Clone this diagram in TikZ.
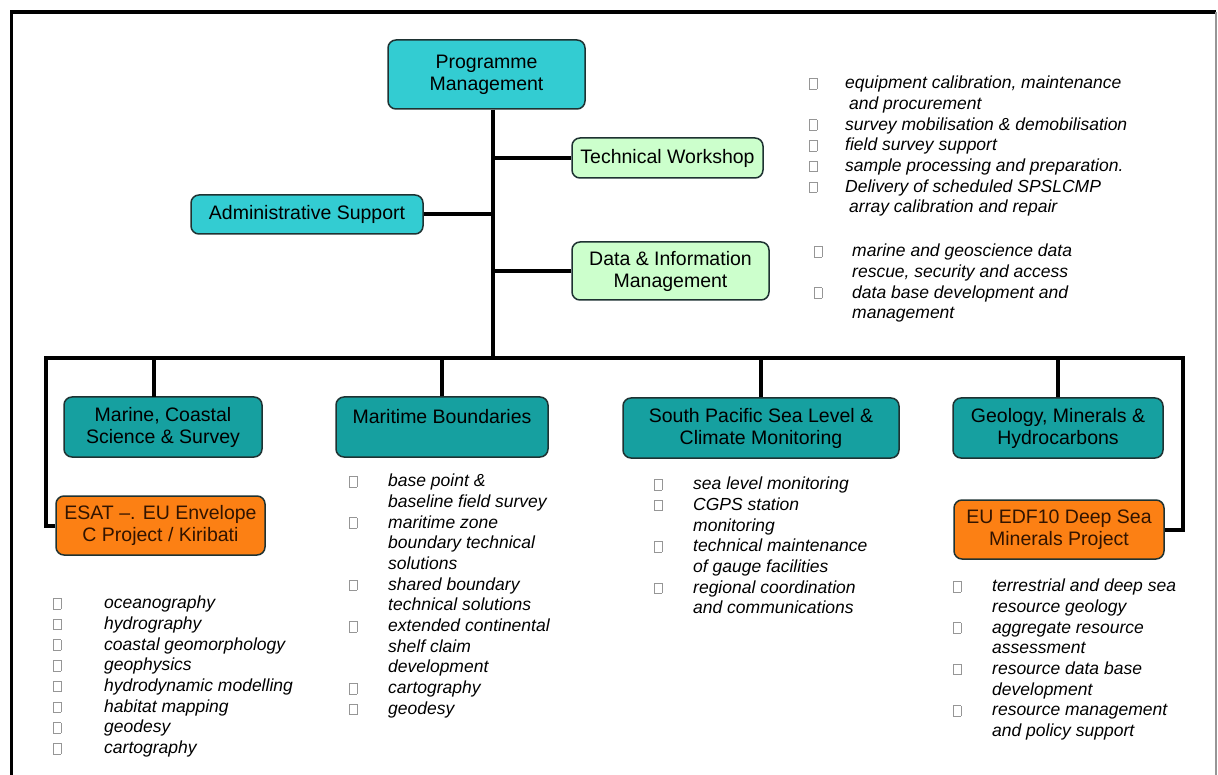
\documentclass[tikz,border=0pt]{standalone}
\usepackage{fontspec}
\setmainfont{Liberation Sans}
\usepackage{tikz}
\definecolor{pm_cyan}{RGB}{51, 204, 210}
\definecolor{ws_green}{RGB}{204, 255, 204}
\definecolor{dv_teal}{RGB}{22, 160, 160}
\definecolor{pj_orange}{RGB}{252, 128, 20}
\definecolor{bx_edge}{RGB}{30, 50, 50}
\definecolor{sq_gray}{RGB}{150, 150, 150}
\tikzstyle{bx}=[rectangle,rounded corners=8pt,draw=bx_edge,line width=1.5pt,
  inner sep=0pt,align=center,font=\fontsize{19.5}{22}\selectfont]
\tikzstyle{pn}=[bx,fill=pm_cyan]
\tikzstyle{wn}=[bx,fill=ws_green]
\tikzstyle{dn}=[bx,fill=dv_teal]
\tikzstyle{orn}=[bx,fill=pj_orange,text={rgb,255:red,50;green,20;blue,0}]
\tikzstyle{lst}=[anchor=north west,inner sep=0pt,align=left,
  font=\fontsize{17.5}{20.7}\selectfont\itshape]
\tikzstyle{link}=[line width=4pt]
\newcommand{\sq}{\textcolor{sq_gray}{\fboxsep=0pt\fboxrule=0.6pt\fbox{\rule{0pt}{10pt}\hspace{7pt}}}}
\newcommand{\sqitem}[2]{\strut\makebox[#1][l]{\sq}#2}
\newcommand{\sqcont}[2]{\strut\hspace*{#1}#2}

\begin{document}
\begin{tikzpicture}[x=1pt,y=-1pt]
    \useasboundingbox (0,0) rectangle (1218,775);
    \draw[line width=3.5pt] (11.5,775) -- (11.5,12) -- (1216,12);
    \draw[sq_gray,line width=1.5pt] (1216,12) -- (1216,775);
    \node [style=pn,minimum width=197pt,minimum height=69pt] (pm) at (486.5,74.5) {Programme\\Management};
    \node [style=wn,minimum width=191pt,minimum height=40pt] (tw) at (667.5,158) {Technical Workshop};
    \node [style=pn,minimum width=232pt,minimum height=39pt] (ad) at (307,214.5) {Administrative Support};
    \node [style=wn,minimum width=197pt,minimum height=58pt] (di) at (670.5,271) {Data \& Information\\Management};
    \node [style=dn,minimum width=198pt,minimum height=60pt] (mc) at (163,427) {Marine, Coastal\\Science \& Survey};
    \node [style=dn,minimum width=212pt,minimum height=60pt] (mb) at (442,427) {Maritime Boundaries\\\mbox{}};
    \node [style=dn,minimum width=276pt,minimum height=60pt] (sp) at (761,428) {South Pacific Sea Level \&\\Climate Monitoring};
    \node [style=dn,minimum width=210pt,minimum height=60pt] (gm) at (1058,428) {Geology, Minerals \&\\Hydrocarbons};
    \node [style=orn,minimum width=209pt,minimum height=59pt] (es) at (160.5,525.5) {ESAT --. EU Envelope\\C Project / Kiribati};
    \node [style=orn,minimum width=210pt,minimum height=59pt] (eu) at (1059,529.5) {EU EDF10 Deep Sea\\Minerals Project};
    \coordinate (hub) at (493,358);
    \coordinate (barL) at (46,358);
    \coordinate (barR) at (1183,358);
    \coordinate (mct) at (154,397);
    \draw [style=link] (pm.south -| hub) to (hub);
    \draw [style=link] (tw.west) to (tw.west -| hub);
    \draw [style=link] (ad.east) to (ad.east -| hub);
    \draw [style=link] (di.west) to (di.west -| hub);
    \draw [style=link] (es.west) -| (barL) -- (barR) |- (eu.east);
    \draw [style=link] (mct) to (mct |- hub);
    \draw [style=link] (mb.north) to (mb.north |- hub);
    \draw [style=link] (sp.north) to (sp.north |- hub);
    \draw [style=link] (gm.north) to (gm.north |- hub);
    \node [style=lst] (twl) at (809,74) {\sqitem{36pt}{equipment calibration, maintenance}\\
      \sqcont{40pt}{and procurement}\\
      \sqitem{36pt}{survey mobilisation \& demobilisation}\\
      \sqitem{36pt}{field survey support}\\
      \sqitem{36pt}{sample processing and preparation.}\\
      \sqitem{36pt}{Delivery of scheduled SPSLCMP}\\
      \sqcont{40pt}{array calibration and repair}};
    \node [style=lst] (dil) at (814,242) {\sqitem{38pt}{marine and geoscience data}\\
      \sqcont{38pt}{rescue, security and access}\\
      \sqitem{38pt}{data base development and}\\
      \sqcont{38pt}{management}};
    \node [style=lst] (mcl) at (53,594) {\sqitem{51pt}{oceanography}\\
      \sqitem{51pt}{hydrography}\\
      \sqitem{51pt}{coastal geomorphology}\\
      \sqitem{51pt}{geophysics}\\
      \sqitem{51pt}{hydrodynamic modelling}\\
      \sqitem{51pt}{habitat mapping}\\
      \sqitem{51pt}{geodesy}\\
      \sqitem{51pt}{cartography}};
    \node [style=lst] (mbl) at (349,472) {\sqitem{39pt}{base point \&}\\
      \sqcont{39pt}{baseline field survey}\\
      \sqitem{39pt}{maritime zone}\\
      \sqcont{39pt}{boundary technical}\\
      \sqcont{39pt}{solutions}\\
      \sqitem{39pt}{shared boundary}\\
      \sqcont{39pt}{technical solutions}\\
      \sqitem{39pt}{extended continental}\\
      \sqcont{39pt}{shelf claim}\\
      \sqcont{39pt}{development}\\
      \sqitem{39pt}{cartography}\\
      \sqitem{39pt}{geodesy}};
    \node [style=lst] (spl) at (654,475) {\sqitem{39pt}{sea level monitoring}\\
      \sqitem{39pt}{CGPS station}\\
      \sqcont{39pt}{monitoring}\\
      \sqitem{39pt}{technical maintenance}\\
      \sqcont{39pt}{of gauge facilities}\\
      \sqitem{39pt}{regional coordination}\\
      \sqcont{39pt}{and communications}};
    \node [style=lst] (gml) at (953,577) {\sqitem{39pt}{terrestrial and deep sea}\\
      \sqcont{39pt}{resource geology}\\
      \sqitem{39pt}{aggregate resource}\\
      \sqcont{39pt}{assessment}\\
      \sqitem{39pt}{resource data base}\\
      \sqcont{39pt}{development}\\
      \sqitem{39pt}{resource management}\\
      \sqcont{39pt}{and policy support}};
\end{tikzpicture}
\end{document}
